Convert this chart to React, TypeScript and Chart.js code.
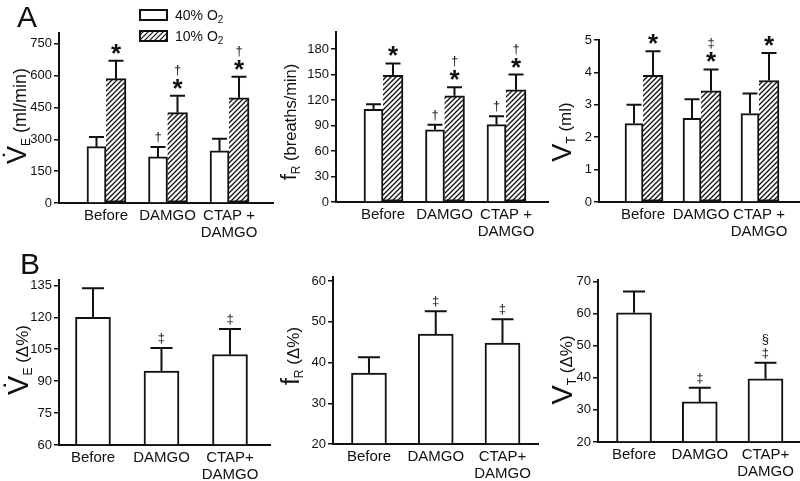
import React, { useEffect, useRef } from "react";
import { Chart, registerables } from "chart.js";
Chart.register(...registerables);

// ---------- data ----------
const groupLabelsA: (string | string[])[] = ["Before", "DAMGO", ["CTAP +", "DAMGO"]];
const groupLabelsB: (string | string[])[] = ["Before", "DAMGO", ["CTAP+", "DAMGO"]];

// Panel A: 40% O2 (open bars) vs 10% O2 (hatched bars)
const veO2High = [265, 217, 245];
const veO2HighErr = [46, 47, 57];
const veO2Low = [585, 425, 495];
const veO2LowErr = [85, 80, 99];

const frO2High = [109, 85, 91];
const frO2HighErr = [6, 6, 10];
const frO2Low = [149, 125, 132];
const frO2LowErr = [14, 10, 18];

const vtO2High = [2.42, 2.58, 2.73];
const vtO2HighErr = [0.58, 0.59, 0.62];
const vtO2Low = [3.91, 3.43, 3.75];
const vtO2LowErr = [0.74, 0.66, 0.85];

// Panel B: hypoxic response (Δ%)
const veDelta = [120, 94.7, 102.5];
const veDeltaErr = [13.6, 10.9, 12];
const frDelta = [37.4, 47, 44.8];
const frDeltaErr = [3.9, 5.6, 5.8];
const vtDelta = [60.3, 32.5, 39.7];
const vtDeltaErr = [6.6, 4.4, 5];

// significance marks, listed bottom to top
const veHighMarks = [[], ["†"], []];
const veLowMarks = [["*"], ["*", "†"], ["*", "†"]];
const frHighMarks = [[], ["†"], ["†"]];
const frLowMarks = [["*"], ["*", "†"], ["*", "†"]];
const vtHighMarks = [[], [], []];
const vtLowMarks = [["*"], ["*", "‡"], ["*"]];
const veDeltaMarks = [[], ["‡"], ["‡"]];
const frDeltaMarks = [[], ["‡"], ["‡"]];
const vtDeltaMarks = [[], ["‡"], ["‡", "§"]];

// y-axis ranges
const veRange = { min: 0, max: 800, step: 150 };
const frRange = { min: 0, max: 200, step: 30 };
const vtRange = { min: 0, max: 5, step: 1 };
const veDeltaRange = { min: 60, max: 137.5, step: 15 };
const frDeltaRange = { min: 20, max: 61, step: 10 };
const vtDeltaRange = { min: 20, max: 70.5, step: 10 };

// ---------- styling / layout ----------
const INK = "#111";
const FONT = '"Liberation Sans", Arial, sans-serif';
const YW = 45; // y-axis box width
const PAD_T = 10;
const PAD_R = 3;
const XH = 45; // x-axis box height

type Series = { values: number[]; errors: number[]; marks: string[][]; hatch: boolean; thickness: number };
type Panel = {
  area: { L: number; R: number; T: number; B: number };
  xMin: number;
  xMax: number;
  range: { min: number; max: number; step: number };
  labels: (string | string[])[];
  series: Series[];
  cap: number;
};

const panels: Panel[] = [
  {
    area: { L: 59, R: 273, T: 33, B: 203 }, xMin: -0.764, xMax: 2.715, range: veRange, labels: groupLabelsA, cap: 15,
    series: [
      { values: veO2High, errors: veO2HighErr, marks: veHighMarks, hatch: false, thickness: 19 },
      { values: veO2Low, errors: veO2LowErr, marks: veLowMarks, hatch: true, thickness: 20 },
    ],
  },
  {
    area: { L: 336, R: 548, T: 32, B: 202 }, xMin: -0.764, xMax: 2.683, range: frRange, labels: groupLabelsA, cap: 15,
    series: [
      { values: frO2High, errors: frO2HighErr, marks: frHighMarks, hatch: false, thickness: 19 },
      { values: frO2Low, errors: frO2LowErr, marks: frLowMarks, hatch: true, thickness: 20 },
    ],
  },
  {
    area: { L: 599, R: 800, T: 40, B: 202 }, xMin: -0.759, xMax: 2.707, range: vtRange, labels: groupLabelsA, cap: 15,
    series: [
      { values: vtO2High, errors: vtO2HighErr, marks: vtHighMarks, hatch: false, thickness: 18 },
      { values: vtO2Low, errors: vtO2LowErr, marks: vtLowMarks, hatch: true, thickness: 20 },
    ],
  },
  {
    area: { L: 59, R: 270, T: 280, B: 445 }, xMin: -0.496, xMax: 2.584, range: veDeltaRange, labels: groupLabelsB, cap: 22,
    series: [{ values: veDelta, errors: veDeltaErr, marks: veDeltaMarks, hatch: false, thickness: 35 }],
  },
  {
    area: { L: 333, R: 538, T: 277, B: 444 }, xMin: -0.539, xMax: 2.532, range: frDeltaRange, labels: groupLabelsB, cap: 22,
    series: [{ values: frDelta, errors: frDeltaErr, marks: frDeltaMarks, hatch: false, thickness: 35 }],
  },
  {
    area: { L: 598, R: 800, T: 280, B: 442 }, xMin: -0.548, xMax: 2.525, range: vtDeltaRange, labels: groupLabelsB, cap: 22,
    series: [{ values: vtDelta, errors: vtDeltaErr, marks: vtDeltaMarks, hatch: false, thickness: 35 }],
  },
];

function makeHatch(ctx: CanvasRenderingContext2D): CanvasPattern | string {
  const c = document.createElement("canvas");
  c.width = 5;
  c.height = 5;
  const g = c.getContext("2d")!;
  g.fillStyle = "#fff";
  g.fillRect(0, 0, 5, 5);
  g.strokeStyle = INK;
  g.lineWidth = 1.3;
  g.beginPath();
  g.moveTo(0, 5);
  g.lineTo(5, 0);
  g.moveTo(-1, 1);
  g.lineTo(1, -1);
  g.moveTo(4, 6);
  g.lineTo(6, 4);
  g.stroke();
  return ctx.createPattern(c, "repeat") || "#fff";
}

const errorBarPlugin = {
  id: "errorBars",
  afterDatasetsDraw(chart: any, _args: any, opts: any) {
    const ctx: CanvasRenderingContext2D = chart.ctx;
    const yScale = chart.scales.y;
    const cap = opts.cap || 14;
    chart.data.datasets.forEach((ds: any, di: number) => {
      const meta = chart.getDatasetMeta(di);
      meta.data.forEach((el: any, i: number) => {
        const v = ds.data[i].y;
        const e = ds.errors[i];
        const yTop = yScale.getPixelForValue(v + e);
        ctx.save();
        ctx.strokeStyle = INK;
        ctx.lineWidth = 2;
        ctx.beginPath();
        ctx.moveTo(el.x, el.y);
        ctx.lineTo(el.x, yTop);
        ctx.moveTo(el.x - cap / 2, yTop);
        ctx.lineTo(el.x + cap / 2, yTop);
        ctx.stroke();
        let bottom = yTop - 1;
        (ds.marks[i] || []).forEach((m: string, k: number) => {
          const star = m === "*";
          ctx.font = star ? `bold 26px ${FONT}` : `13px ${FONT}`;
          ctx.textAlign = "center";
          ctx.textBaseline = "alphabetic";
          ctx.fillStyle = INK;
          const mt = ctx.measureText(m);
          bottom -= k === 0 ? (star ? 6 : 3) : 3;
          const base = bottom - mt.actualBoundingBoxDescent;
          ctx.fillText(m, el.x, base);
          bottom = base - mt.actualBoundingBoxAscent;
        });
        ctx.restore();
      });
    });
  },
};

function BarPanel({ panel }: { panel: Panel }) {
  const ref = useRef<HTMLCanvasElement>(null);
  const { L, R, T, B } = panel.area;
  const left = L - YW;
  const top = T - PAD_T;
  const width = R - L + YW + PAD_R;
  const height = B - T + PAD_T + XH;

  useEffect(() => {
    const canvas = ref.current!;
    const ctx = canvas.getContext("2d")!;
    const hatch = makeHatch(ctx);
    const chart = new Chart(canvas, {
      type: "bar",
      data: {
        datasets: panel.series.map((s) => ({
          data: s.values.map((v, i) => ({ x: i, y: v })),
          errors: s.errors,
          marks: s.marks,
          backgroundColor: s.hatch ? hatch : "#fff",
          borderColor: INK,
          borderWidth: 2,
          borderSkipped: s.hatch ? "left" : "bottom",
          barThickness: s.thickness,
          base: panel.range.min,
        })) as any,
      },
      options: {
        responsive: false,
        animation: false,
        devicePixelRatio: 1,
        layout: { padding: { top: PAD_T, right: PAD_R, left: 0, bottom: 0 } },
        plugins: {
          legend: { display: false },
          tooltip: { enabled: false },
          errorBars: { cap: panel.cap },
        } as any,
        scales: {
          x: {
            type: "linear",
            min: panel.xMin,
            max: panel.xMax,
            offset: false,
            z: 1,
            grid: { display: false, drawTicks: false, offset: false },
            border: { display: true, color: INK, width: 2 },
            afterBuildTicks: (s: any) => {
              s.ticks = panel.labels.map((_, i) => ({ value: i }));
            },
            afterFit: (s: any) => {
              s.height = XH;
            },
            ticks: {
              autoSkip: false,
              maxRotation: 0,
              minRotation: 0,
              padding: 4,
              color: INK,
              font: { family: FONT, size: 15, lineHeight: 1.15 },
              callback: (v: any) => panel.labels[Math.round(Number(v))] as any,
            },
          },
          y: {
            type: "linear",
            min: panel.range.min,
            max: panel.range.max,
            z: 1,
            grid: { drawOnChartArea: false, drawTicks: true, tickLength: 5, color: INK, lineWidth: 1.5 },
            border: { display: true, color: INK, width: 2 },
            afterFit: (s: any) => {
              s.width = YW;
            },
            ticks: {
              stepSize: panel.range.step,
              includeBounds: false,
              padding: 2,
              color: INK,
              font: { family: FONT, size: 13 },
            },
          },
        },
      } as any,
      plugins: [errorBarPlugin],
    });
    return () => chart.destroy();
  }, []);

  return (
    <canvas
      ref={ref}
      width={width}
      height={height}
      style={{ position: "absolute", left, top, width, height }}
    />
  );
}

type TitlePart = { t: string; size: number; dy?: number };
function AxisTitle({ x, y, parts }: { x: number; y: number; parts: TitlePart[] }) {
  return (
    <text transform={`translate(${x},${y}) rotate(-90)`} textAnchor="middle" fontFamily={FONT} fill={INK}>
      {parts.map((p, i) => (
        <tspan key={i} fontSize={p.size} dy={p.dy || 0}>
          {p.t}
        </tspan>
      ))}
    </text>
  );
}

export default function App() {
  return (
    <div style={{ position: "absolute", left: 0, top: 0, width: 800, height: 481, overflow: "hidden", background: "#fff" }}>
      {panels.map((p, i) => (
        <BarPanel key={i} panel={p} />
      ))}
      <svg width={800} height={481} style={{ position: "absolute", left: 0, top: 0, pointerEvents: "none" }}>
        <defs>
          <pattern id="hatchP" width="5" height="5" patternUnits="userSpaceOnUse">
            <rect width="5" height="5" fill="#fff" />
            <path d="M0,5 L5,0 M-1,1 L1,-1 M4,6 L6,4" stroke={INK} strokeWidth="1.2" />
          </pattern>
        </defs>
        <text x={17} y={26.5} fontSize={30} fontFamily={FONT} fill={INK}>A</text>
        <text x={20} y={273.5} fontSize={30} fontFamily={FONT} fill={INK}>B</text>

        <rect x={140} y={10} width={27} height={10} fill="#fff" stroke={INK} strokeWidth={2} />
        <rect x={140} y={31} width={27} height={10} fill="url(#hatchP)" stroke={INK} strokeWidth={2} />
        <text x={175} y={20} fontSize={14} fontFamily={FONT} fill={INK}>
          40% O<tspan fontSize={10} dy={3}>2</tspan>
        </text>
        <text x={175} y={41} fontSize={14} fontFamily={FONT} fill={INK}>
          10% O<tspan fontSize={10} dy={3}>2</tspan>
        </text>

        <AxisTitle x={26} y={116} parts={[{ t: "V\u0307", size: 27 }, { t: "E", size: 12, dy: 4 }, { t: " (ml/min)", size: 18, dy: -4 }]} />
        <AxisTitle x={296} y={122} parts={[{ t: "f", size: 22 }, { t: "R", size: 12, dy: 4 }, { t: " (breaths/min)", size: 16.5, dy: -4 }]} />
        <AxisTitle x={571} y={132} parts={[{ t: "V", size: 27 }, { t: "T", size: 12, dy: 4 }, { t: " (ml)", size: 17, dy: -4 }]} />
        <AxisTitle x={28} y={360} parts={[{ t: "V\u0307", size: 29 }, { t: "E", size: 12, dy: 4 }, { t: " (\u0394%)", size: 17, dy: -4 }]} />
        <AxisTitle x={299} y={356} parts={[{ t: "f", size: 25 }, { t: "R", size: 12, dy: 4 }, { t: " (\u0394%)", size: 17, dy: -4 }]} />
        <AxisTitle x={572} y={370} parts={[{ t: "V", size: 29 }, { t: "T", size: 12, dy: 4 }, { t: " (\u0394%)", size: 17, dy: -4 }]} />
      </svg>
    </div>
  );
}
